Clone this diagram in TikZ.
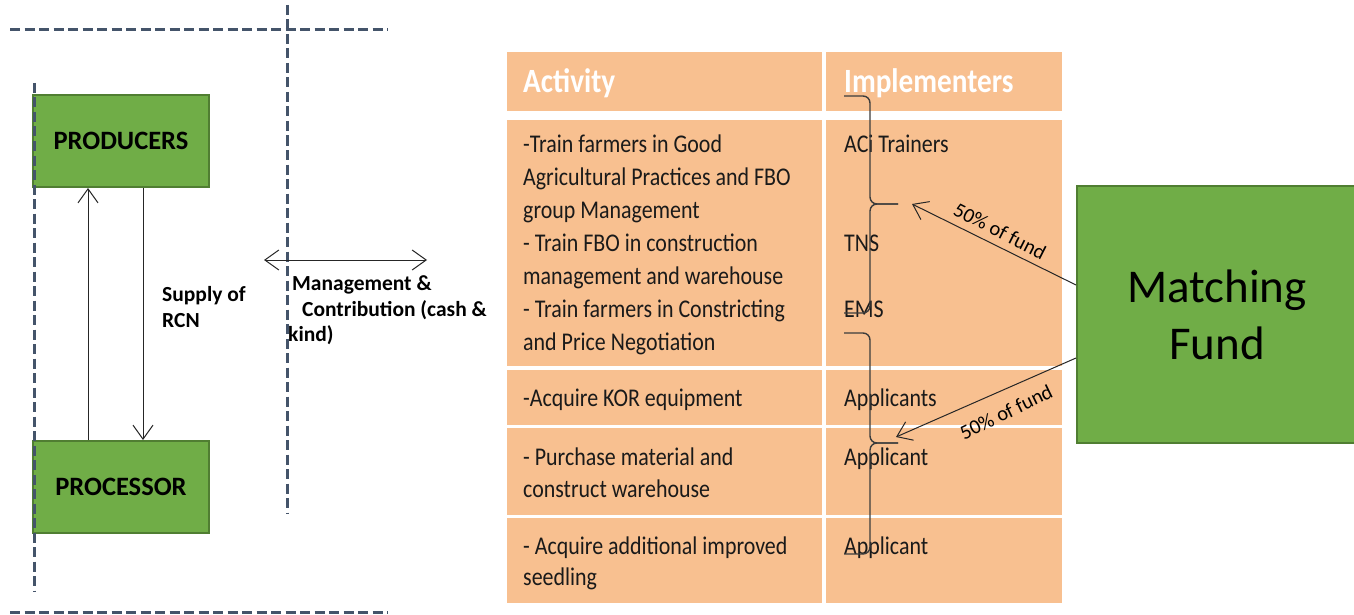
\documentclass[tikz,border=0pt]{standalone}
\usepackage{fontspec}
\setmainfont{Carlito}
\newfontfamily\tabfont[FakeStretch=0.86]{Carlito}
\usetikzlibrary{arrows.meta}
\definecolor{peach}{HTML}{F8C090}
\definecolor{grn}{HTML}{70AD47}
\definecolor{grnline}{HTML}{507E32}
\definecolor{dashc}{HTML}{44546A}
\definecolor{txt}{HTML}{1A1A1A}
\definecolor{bracec}{HTML}{3C3C3C}
\newcommand\lnstrut[1]{\rule{0pt}{#1}}
\begin{document}
\begin{tikzpicture}[x=1pt,y=-1pt,
  greenbox/.style={draw=grnline, line width=2pt, fill=grn, inner sep=0pt},
  dashline/.style={draw=dashc, line width=3pt, dash pattern=on 10pt off 4.5pt},
  arr/.style={draw=black!85, line width=1pt, -{Straight Barb[length=14pt,width=20pt]}},
  dblarr/.style={draw=black!85, line width=1pt, {Straight Barb[length=14pt,width=20pt]}-{Straight Barb[length=14pt,width=20pt]}},
  brc/.style={draw=bracec, line width=1.4pt, rounded corners=7pt},
  cell/.style={fill=peach},
  hdr/.style={anchor=base west, inner sep=0pt, text=white, font=\tabfont\bfseries\fontsize{34}{40}\selectfont},
  sgl/.style={anchor=base west, inner sep=0pt, text=txt, font=\tabfont\fontsize{25.5}{33}\selectfont},
  body/.style={anchor=north west, inner sep=0pt, align=left, text=txt, font=\tabfont\fontsize{25.5}{33}\selectfont},
  lbl/.style={anchor=north west, inner sep=0pt, align=left, text=black, font=\bfseries\fontsize{21.5}{25.8}\selectfont},
  pct/.style={inner sep=0pt, text=black, font=\fontsize{20.5}{24}\selectfont}
]
\useasboundingbox (0,0) rectangle (1354,615);
\fill[white] (0,0) rectangle (1354,615);

% left boxes
\node[greenbox, minimum width=176pt, minimum height=92pt, font=\bfseries\fontsize{26.5}{30}\selectfont] (prod) at (121,141) {PRODUCERS};
\node[greenbox, minimum width=176pt, minimum height=92pt, font=\bfseries\fontsize{26.5}{30}\selectfont] (proc) at (121,487) {PROCESSOR};

\draw[arr] ([xshift=-33pt]proc.north) -- ([xshift=-33pt]prod.south);
\draw[arr] ([xshift=22pt]prod.south) -- ([xshift=22pt]proc.north);

\node[lbl] (supply) at (162,284) {\lnstrut{17pt}Supply of\\RCN};

% dashed guides
\draw[dashline] (10,29.5) -- (388,29.5);
\draw[dashline] (10,612.5) -- (388,612.5);
\draw[dashline] (287,5) -- (287,514);
\draw[dashline] (34,83) -- (34,592);

% management arrow
\coordinate (mL) at (264,260);
\coordinate (mR) at (427,260);
\draw[dblarr] (mL) -- (mR);
\node[lbl] (mgmt) at (288,273) {\lnstrut{17pt}\hspace{4pt}Management \&\\\hspace{14pt}Contribution (cash \&\\kind)};

% table cells
\fill[cell] (507,52) rectangle (822,111);
\fill[cell] (826,52) rectangle (1062,111);
\fill[cell] (507,120) rectangle (822,366);
\fill[cell] (826,120) rectangle (1062,366);
\fill[cell] (507,370) rectangle (822,425);
\fill[cell] (826,370) rectangle (1062,425);
\fill[cell] (507,428) rectangle (822,515);
\fill[cell] (826,428) rectangle (1062,515);
\fill[cell] (507,518) rectangle (822,603);
\fill[cell] (826,518) rectangle (1062,603);

\node[hdr] (hact) at (523,93) {Activity};
\node[hdr] (himp) at (844,93) {Implementers};

\node[body] (act1) at (523,131) {\lnstrut{21pt}-Train farmers in Good\\Agricultural Practices and FBO\\group Management\\- Train FBO in construction\\management and warehouse\\- Train farmers in Constricting\\and Price Negotiation};
\node[sgl] (imp1a) at (844,152) {ACi Trainers};
\node[sgl] (imp1b) at (844,251) {TNS};
\node[sgl] (imp1c) at (844,317) {EMS};

\node[sgl] (act2) at (523,406) {-Acquire KOR equipment};
\node[sgl] (imp2) at (844,406) {Applicants};

\node[body, font=\tabfont\fontsize{25.5}{32}\selectfont] (act3) at (523,444) {\lnstrut{21pt}- Purchase material and\\construct warehouse};
\node[sgl] (imp3) at (844,465) {Applicant};

\node[body, font=\tabfont\fontsize{25.5}{31.5}\selectfont] (act4) at (523,533) {\lnstrut{21pt}- Acquire additional improved\\seedling};
\node[sgl] (imp4) at (844,554) {Applicant};

% braces
\coordinate (b1) at (898,204);
\coordinate (b2) at (898,443);
\draw[brc] (844,96) -| (870,204) -- (b1);
\draw[brc] (b1) -- (870,204) |- (844,313);
\draw[brc] (844,333) -| (870,443) -- (b2);
\draw[brc] (b2) -- (870,443) |- (844,554);

% matching fund
\node[greenbox, minimum width=280pt, minimum height=257pt, align=center, font=\fontsize{47}{57}\selectfont] (mf) at (1217,314.5) {Matching\\Fund};

\coordinate (t1) at (912,204);
\coordinate (t2) at (896,437);
\draw[arr] ([yshift=29.5pt]mf.west) -- (t1);
\draw[arr] ([yshift=-43.5pt]mf.west) -- (t2);

\node[pct, rotate=-27] (p1) at (1000,231) {50\% of fund};
\node[pct, rotate=26] (p2) at (1006,412) {50\% of fund};
\end{tikzpicture}
\end{document}
